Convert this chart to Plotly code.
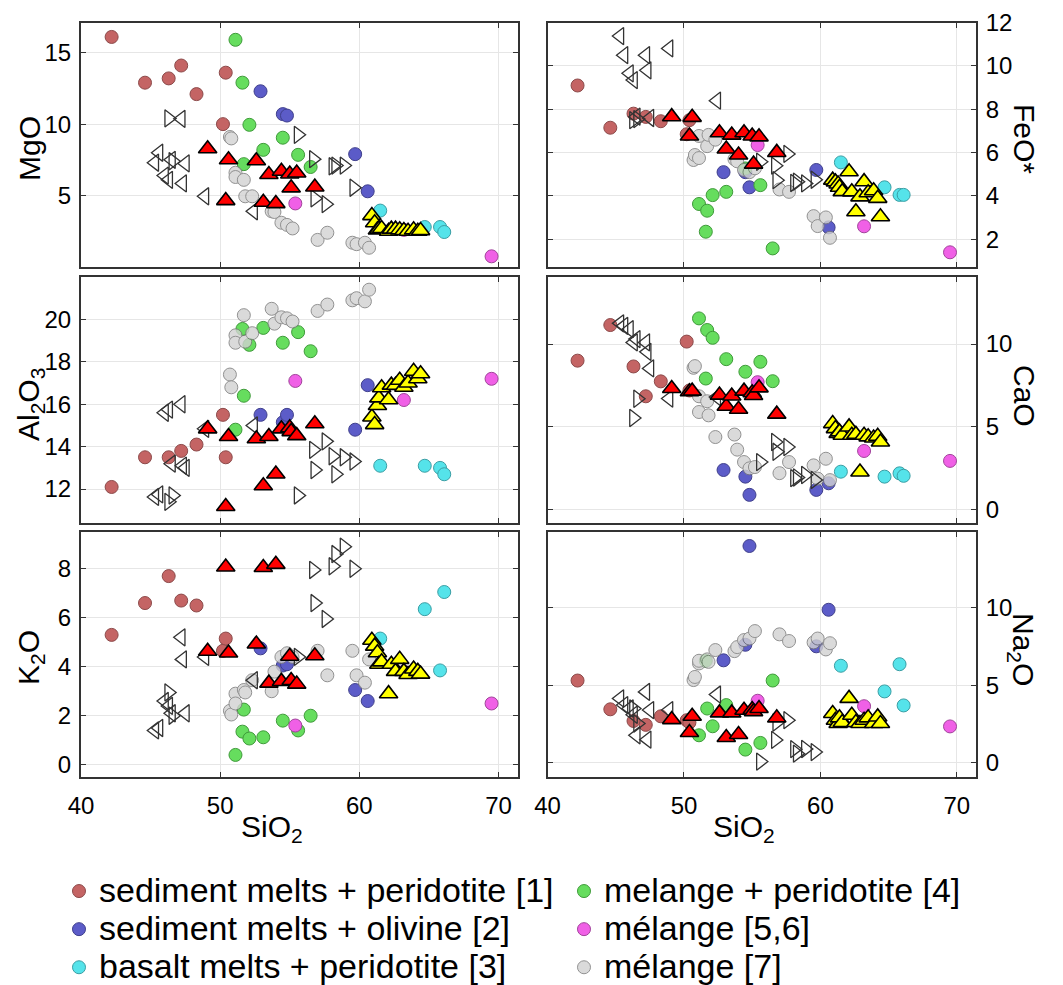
import plotly.graph_objects as go

# ---------------- data ----------------
# sediment melts + peridotite [1]
SP_SIO2 = [42.2, 44.6, 46.3, 47.2, 48.3, 50.2, 50.4]
SP_MGO = [16.1, 12.9, 13.2, 14.1, 12.1, 10.0, 13.6]
SP_AL2O3 = [12.1, 13.5, 13.5, 13.8, 14.1, 15.5, 13.5]
SP_K2O = [5.3, 6.6, 7.7, 6.7, 6.5, 4.65, 5.15]
SP_FEO = [9.1, 7.15, 7.8, 7.65, 7.45, 6.85, 7.5]
SP_CAO = [9.0, 11.15, 8.65, 6.85, 7.75, 10.15, 7.2]
SP_NA2O = [5.3, 3.45, 2.7, 2.45, 3.0, 2.75, 2.6]

# sediment melts + olivine [2]
SO_SIO2 = [52.9, 54.5, 54.8, 59.7, 60.6]
SO_MGO = [12.3, 10.7, 10.6, 7.9, 5.3]
SO_AL2O3 = [15.5, 15.15, 15.5, 14.8, 16.9]
SO_K2O = [4.75, 4.05, 4.1, 3.05, 2.6]
SO_FEO = [5.1, 5.1, 4.4, 5.2, 2.55]
SO_CAO = [2.4, 2.0, 0.9, 1.2, 1.6]
SO_NA2O = [6.6, 7.6, 13.95, 7.5, 9.85]

# basalt melts + peridotite [3]
BP_SIO2 = [61.5, 64.7, 65.8, 66.1]
BP_MGO = [3.95, 2.8, 2.8, 2.45]
BP_AL2O3 = [13.1, 13.1, 13.0, 12.7]
BP_K2O = [5.15, 6.35, 3.85, 7.05]
BP_FEO = [5.55, 4.4, 4.05, 4.05]
BP_CAO = [2.3, 2.0, 2.2, 2.05]
BP_NA2O = [6.25, 4.6, 6.35, 3.7]

# melange + peridotite [4]
MP_SIO2 = [51.1, 51.6, 51.7, 52.1, 53.1, 54.5, 55.6, 56.5]
MP_MGO = [15.9, 12.9, 7.2, 9.95, 8.2, 9.05, 7.85, 7.0]
MP_AL2O3 = [14.8, 19.55, 16.4, 18.8, 19.6, 18.9, 19.4, 18.5]
MP_K2O = [0.4, 1.35, 2.25, 1.07, 1.12, 1.8, 1.4, 2.0]
MP_FEO = [3.63, 2.35, 3.32, 4.04, 4.19, 5.27, 4.5, 1.58]
MP_CAO = [11.55, 7.92, 10.85, 10.38, 9.09, 8.33, 8.93, 7.76]
MP_NA2O = [1.78, 6.57, 3.5, 2.36, 3.72, 0.86, 1.29, 5.3]

# mélange [5,6]
M56_SIO2 = [55.4, 63.2, 69.5]
M56_MGO = [4.45, 2.6, 0.75]
M56_AL2O3 = [17.1, 16.2, 17.2]
M56_K2O = [1.6, 3.8, 2.5]
M56_FEO = [6.35, 2.6, 1.4]
M56_CAO = [7.7, 3.55, 2.95]
M56_NA2O = [4.0, 3.65, 2.35]

# mélange [7]
M7_SIO2 = [50.7, 50.8, 51.1, 51.1, 51.7, 51.8, 52.3, 53.7, 53.9, 54.4, 54.8, 55.2, 57.0, 57.7, 59.5, 59.8, 60.4, 60.7]
M7_MGO = [9.1, 9.0, 6.6, 6.3, 6.1, 4.95, 4.95, 3.9, 3.85, 3.1, 2.95, 2.7, 1.9, 2.4, 1.7, 1.6, 1.7, 1.35]
M7_AL2O3 = [17.4, 16.8, 19.25, 18.9, 20.2, 18.95, 19.35, 20.5, 19.8, 20.1, 20.05, 19.9, 20.4, 20.7, 20.9, 21.0, 20.85, 21.4]
M7_K2O = [2.2, 2.05, 2.9, 2.5, 3.05, 2.95, 3.45, 3.0, 3.8, 4.4, 4.55, 4.4, 4.65, 3.65, 4.65, 3.65, 3.35, 4.3]
M7_FEO = [5.66, 5.89, 6.77, 5.75, 6.3, 6.82, 6.6, 5.7, 5.6, 5.2, 5.1, 5.28, 4.3, 4.19, 3.07, 2.61, 3.01, 2.07]
M7_CAO = [8.57, 8.67, 6.85, 5.9, 6.55, 5.7, 4.39, 4.54, 3.63, 2.88, 2.5, 2.58, 2.21, 2.88, 2.68, 1.88, 3.08, 1.79]
M7_NA2O = [5.33, 5.53, 6.4, 6.57, 6.66, 6.5, 7.26, 7.19, 7.45, 7.9, 8.0, 8.48, 8.27, 7.84, 7.75, 8.0, 7.3, 7.7]

# red triangles
RT_SIO2 = [49.1, 50.4, 50.6, 52.6, 53.1, 53.5, 54.0, 54.4, 55.0, 55.1, 55.5, 56.8]
RT_MGO = [8.28, 4.65, 7.51, 7.44, 4.53, 6.47, 4.44, 6.7, 6.51, 5.54, 6.58, 5.6]
RT_AL2O3 = [14.84, 11.18, 14.48, 14.37, 12.16, 14.48, 12.71, 14.84, 14.89, 14.71, 14.52, 15.08]
RT_K2O = [4.63, 8.07, 4.56, 4.93, 8.05, 3.33, 8.18, 3.4, 4.43, 3.44, 3.29, 4.45]
RT_FEO = [7.66, 6.77, 7.63, 6.92, 6.17, 6.81, 5.89, 6.92, 6.77, 5.47, 6.73, 6.01]
RT_CAO = [7.32, 7.12, 7.16, 6.92, 6.25, 6.87, 6.07, 7.16, 7.06, 6.9, 7.36, 5.77]
RT_NA2O = [2.79, 1.96, 3.0, 3.22, 1.64, 3.22, 1.83, 3.39, 3.44, 3.3, 3.5, 2.9]

# yellow triangles
YT_SIO2 = [60.9, 61.1, 61.3, 61.4, 61.6, 62.1, 62.3, 62.6, 62.9, 63.2, 63.5, 63.9, 64.2, 64.4]
YT_MGO = [3.6, 3.1, 2.6, 2.65, 2.7, 2.5, 2.65, 2.65, 2.6, 2.55, 2.5, 2.6, 2.5, 2.55]
YT_AL2O3 = [15.4, 15.04, 15.94, 16.3, 16.78, 16.21, 16.9, 16.89, 17.13, 16.8, 17.0, 17.55, 17.2, 17.44]
YT_K2O = [5.08, 4.84, 4.57, 4.1, 4.2, 2.9, 4.1, 3.81, 4.3, 3.81, 3.68, 3.91, 3.81, 3.7]
YT_FEO = [4.73, 4.65, 4.55, 4.4, 4.2, 5.12, 4.19, 3.27, 3.96, 4.66, 4.15, 4.24, 3.89, 3.04]
YT_CAO = [5.2, 4.9, 4.6, 4.7, 4.5, 5.0, 4.5, 4.55, 2.28, 4.5, 4.4, 4.33, 4.43, 4.09]
YT_NA2O = [3.18, 2.75, 2.54, 2.9, 2.6, 4.15, 3.07, 2.6, 2.54, 2.75, 2.9, 2.54, 2.96, 2.54]

# open left-pointing triangles
LT_SIO2 = [45.3, 45.6, 46.0, 46.3, 46.5, 47.2, 47.3, 47.5, 48.9, 52.4]
LT_MGO = [7.3, 8.0, 6.4, 6.1, 7.5, 10.37, 5.85, 7.25, 4.95, 3.9]
LT_AL2O3 = [11.63, 11.75, 15.6, 15.75, 13.2, 16.0, 13.1, 13.0, 14.84, 15.0]
LT_K2O = [1.4, 1.5, 2.6, 2.4, 2.1, 5.2, 4.3, 2.1, 4.4, 3.45]
LT_FEO = [11.38, 10.5, 9.66, 9.35, 7.66, 10.5, 9.8, 7.6, 10.81, 8.4]
LT_CAO = [11.25, 11.1, 10.9, 10.1, 10.3, 10.1, 9.53, 8.53, 6.71, 6.8]
LT_NA2O = [4.15, 3.72, 3.5, 3.1, 1.78, 4.57, 1.5, 3.4, 3.4, 4.4]

# open right-pointing triangles
RPT_SIO2 = [46.3, 46.6, 55.6, 56.7, 56.8, 57.6, 58.1, 58.3, 58.9, 59.6]
RPT_MGO = [10.4, 7.4, 9.25, 7.55, 4.8, 4.4, 7.05, 7.1, 7.1, 5.55]
RPT_AL2O3 = [11.4, 11.7, 11.7, 13.85, 12.9, 14.25, 13.55, 12.7, 13.5, 13.3]
RPT_K2O = [2.95, 2.0, 4.4, 7.95, 6.6, 5.95, 8.1, 8.6, 8.9, 8.0]
RPT_FEO = [7.5, 7.55, 5.58, 5.4, 4.73, 5.94, 4.6, 4.66, 4.58, 4.75]
RPT_CAO = [5.54, 6.7, 2.88, 4.09, 3.5, 3.79, 1.91, 1.95, 2.1, 1.8]
RPT_NA2O = [3.5, 2.54, 0.09, 1.48, 2.6, 2.75, 0.89, 0.6, 0.9, 0.7]

# ---------------- styling ----------------
FONT = "Arial, Liberation Sans, Helvetica, sans-serif"


def big(t):
    return '<span style="font-size:34px">' + t + '</span>'


series = [
    dict(name="sediment melts + peridotite [1]", rank=1, sym="circle", size=13, fill="#c46464", edge="#8c4a4a", op=1.0,
         x=SP_SIO2, MgO=SP_MGO, Al=SP_AL2O3, K=SP_K2O, Fe=SP_FEO, Ca=SP_CAO, Na=SP_NA2O, leg=True),
    dict(name="sediment melts + olivine [2]", rank=3, sym="circle", size=13, fill="#5c5cc8", edge="#40408c", op=1.0,
         x=SO_SIO2, MgO=SO_MGO, Al=SO_AL2O3, K=SO_K2O, Fe=SO_FEO, Ca=SO_CAO, Na=SO_NA2O, leg=True),
    dict(name="basalt melts + peridotite [3]", rank=5, sym="circle", size=13, fill="#55e3ea", edge="#3a9ea4", op=1.0,
         x=BP_SIO2, MgO=BP_MGO, Al=BP_AL2O3, K=BP_K2O, Fe=BP_FEO, Ca=BP_CAO, Na=BP_NA2O, leg=True),
    dict(name="melange + peridotite [4]", rank=2, sym="circle", size=13, fill="#66dd5e", edge="#3f9a3a", op=1.0,
         x=MP_SIO2, MgO=MP_MGO, Al=MP_AL2O3, K=MP_K2O, Fe=MP_FEO, Ca=MP_CAO, Na=MP_NA2O, leg=True),
    dict(name="mélange [5,6]", rank=4, sym="circle", size=13, fill="#f060e6", edge="#a0449a", op=1.0,
         x=M56_SIO2, MgO=M56_MGO, Al=M56_AL2O3, K=M56_K2O, Fe=M56_FEO, Ca=M56_CAO, Na=M56_NA2O, leg=True),
    dict(name="mélange [7]", rank=6, sym="circle", size=13, fill="#d2d2d2", edge="#777777", op=0.8,
         x=M7_SIO2, MgO=M7_MGO, Al=M7_AL2O3, K=M7_K2O, Fe=M7_FEO, Ca=M7_CAO, Na=M7_NA2O, leg=True),
    dict(name="left", rank=10, sym="triangle-left-open", size=15, fill="#333333", edge="#333333", op=1.0,
         x=LT_SIO2, MgO=LT_MGO, Al=LT_AL2O3, K=LT_K2O, Fe=LT_FEO, Ca=LT_CAO, Na=LT_NA2O, leg=False),
    dict(name="right", rank=11, sym="triangle-right-open", size=15, fill="#333333", edge="#333333", op=1.0,
         x=RPT_SIO2, MgO=RPT_MGO, Al=RPT_AL2O3, K=RPT_K2O, Fe=RPT_FEO, Ca=RPT_CAO, Na=RPT_NA2O, leg=False),
    dict(name="red", rank=12, sym="triangle-up", size=16, fill="#ff0000", edge="#000000", op=1.0,
         x=RT_SIO2, MgO=RT_MGO, Al=RT_AL2O3, K=RT_K2O, Fe=RT_FEO, Ca=RT_CAO, Na=RT_NA2O, leg=False),
    dict(name="yellow", rank=13, sym="triangle-up", size=16, fill="#ffff00", edge="#000000", op=1.0,
         x=YT_SIO2, MgO=YT_MGO, Al=YT_AL2O3, K=YT_K2O, Fe=YT_FEO, Ca=YT_CAO, Na=YT_NA2O, leg=False),
]

# panels: (axis suffix, oxide key)
panels = [("", "MgO"), ("2", "Fe"), ("3", "Al"), ("4", "Ca"), ("5", "K"), ("6", "Na")]

fig = go.Figure()
for s in series:
    for i, (ax, key) in enumerate(panels):
        is_open = s["sym"].endswith("open")
        fig.add_trace(go.Scatter(
            x=s["x"], y=s[key], mode="markers",
            xaxis="x" + ax, yaxis="y" + ax,
            name=big(s["name"]), legendgroup=s["name"], legendrank=s["rank"],
            showlegend=(s["leg"] and i == 0),
            opacity=s["op"],
            marker=dict(symbol=s["sym"], size=s["size"], color=s["fill"],
                        line=dict(color=s["edge"], width=1.3 if is_open else (1.6 if s["sym"] == "triangle-up" else 1))),
            hoverinfo="skip",
        ))

L = [0.0762, 0.4873]
R = [0.5151, 0.9181]
ROWS = [[0.7289, 0.977], [0.4690, 0.7188], [0.2112, 0.4599]]

axis_common = dict(showline=True, linecolor="#333333", linewidth=2, mirror="ticks",
                   ticks="inside", ticklen=5, tickcolor="#333333", tickwidth=1,
                   showgrid=True, gridcolor="#e6e6e6", gridwidth=1, zeroline=False,
                   tickfont=dict(family=FONT, size=24, color="black"))

xcfg = dict(range=[40, 71.4], tickvals=[40, 50, 60, 70], **axis_common)
yranges = {
    "MgO": ([0, 17.1], [5, 10, 15]),
    "Fe": ([0.72, 12], [2, 4, 6, 8, 10, 12]),
    "Al": ([10.4, 22], [12, 14, 16, 18, 20]),
    "Ca": ([-0.8, 14.05], [0, 5, 10]),
    "K": ([-0.5, 9.5], [0, 2, 4, 6, 8]),
    "Na": ([-0.9, 14.85], [0, 5, 10]),
}

layout = dict(width=1063, height=985, margin=dict(l=0, r=0, t=0, b=0, autoexpand=False),
              paper_bgcolor="white", plot_bgcolor="white",
              font=dict(family=FONT, color="black"))
for i, (ax, key) in enumerate(panels):
    col = i % 2
    row = i // 2
    xd = L if col == 0 else R
    yd = ROWS[row]
    layout["xaxis" + ax] = dict(domain=xd, anchor="y" + ax, showticklabels=(row == 2),
                                ticklabelstandoff=6, **xcfg)
    rng, tv = yranges[key]
    layout["yaxis" + ax] = dict(domain=yd, anchor="x" + ax, range=rng, tickvals=tv,
                                side="left" if col == 0 else "right", ticklabelstandoff=3, **axis_common)

fig.update_layout(**layout)

fig.update_layout(legend=dict(orientation="h", x=0.0555, y=1 - 867 / 985, xanchor="left", yanchor="top",
                              entrywidth=460, entrywidthmode="pixels", traceorder="normal",
                              font=dict(family=FONT, size=27, color="black"),
                              bgcolor="rgba(0,0,0,0)", itemwidth=30, tracegroupgap=0))

ann = [
    ("MgO", 30, 149, -90), ("Al<sub>2</sub>O<sub>3</sub>", 30, 405, -90), ("K<sub>2</sub>O", 30, 658, -90),
    ("FeO*", 1025, 139, 90), ("CaO", 1025, 396, 90), ("Na<sub>2</sub>O", 1022, 649, 90),
    ("SiO<sub>2</sub>", 272, 828, 0), ("SiO<sub>2</sub>", 744, 828, 0),
]
for text, px, py, ang in ann:
    fig.add_annotation(text=text, x=px / 1063, y=1 - py / 985, xref="paper", yref="paper",
                       showarrow=False, textangle=ang, xanchor="center", yanchor="middle",
                       font=dict(family=FONT, size=30, color="black"))

fig.write_html("out.html")
